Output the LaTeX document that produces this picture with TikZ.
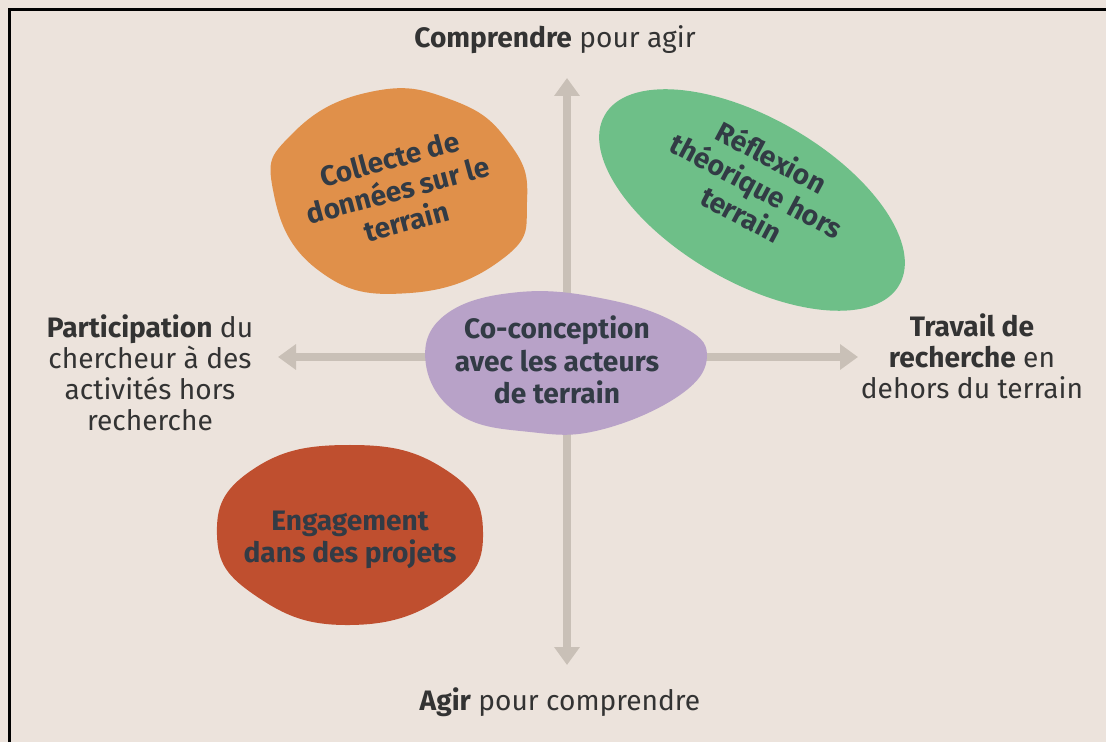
\documentclass[tikz,border=0pt]{standalone}
\usepackage{fontspec}
\setmainfont{Fira Sans}
\usepackage{tikz}
\usetikzlibrary{arrows.meta,positioning}
\definecolor{paper}{HTML}{ECE3DC}
\definecolor{axisgray}{HTML}{C9C0B7}
\definecolor{ink}{HTML}{333333}
\definecolor{blobink}{HTML}{323B45}
\definecolor{orangeblob}{HTML}{E0904A}
\definecolor{greenblob}{HTML}{6EBF88}
\definecolor{purpleblob}{HTML}{B8A2C8}
\definecolor{redblob}{HTML}{BF4F2F}

\begin{document}
\begin{tikzpicture}[x=0.3mm, y=0.3mm,
    every node/.style={font=\fontsize{24}{26.5}\selectfont, align=center, inner sep=0pt, text=ink},
    blobtext/.style={text=blobink, font=\fontsize{24}{27.5}\selectfont\bfseries},
    axis/.style={axisgray, line width=2.4mm, {Triangle[length=5.4mm,width=7.4mm]}-{Triangle[length=5.4mm,width=7.4mm]}}]
% Page and frame
\fill[paper] (0,0) rectangle (1106,742);
\useasboundingbox (0,0) rectangle (1106,742);
\draw[black, line width=0.9mm] (9.5,0) -- (9.5,732.5) -- (1106,732.5);
% Axes
\coordinate (north) at (567,664);
\coordinate (south) at (567,77);
\coordinate (west) at (278,385);
\coordinate (east) at (858,385);
\draw[axis] (south) -- (north);
\draw[axis] (west) -- (east);
% Blobs
\fill[orangeblob] plot[smooth cycle, tension=0.8] coordinates {(273,552) (292,608) (370,650) (452,642) (510,598) (527,540) (505,485) (410,449) (318,472)};
\fill[greenblob, rotate around={-30:(752,542)}] (752,542) ellipse [x radius=170, y radius=82];
\fill[purpleblob] plot[smooth cycle, tension=0.7] coordinates {(426,377) (445,427) (520,450) (610,442) (680,417) (707,387) (680,347) (600,312) (530,310) (460,327)};
\fill[redblob] plot[smooth cycle, tension=0.8] coordinates {(483,210) (446,272) (350,297) (252,272) (217,207) (256,146) (350,117) (448,148)};
% Blob texts
\node[blobtext, rotate=15] (collecte) at (398,552) {Collecte de\\données sur le\\terrain};
\node[blobtext, rotate=-28] (reflexion) at (757,557) {Réflexion\\théorique hors\\terrain};
\node[blobtext] (coconception) at (557,382) {Co-conception\\avec les acteurs\\de terrain};
\node[blobtext] (engagement) at (350,202) {Engagement\\dans des projets};
% Axis labels
\node (comprendre) at (555,702) {\textbf{Comprendre} pour agir};
\node (agir) at (560,40) {\textbf{Agir} pour comprendre};
\node (participation) at (150,369) {\textbf{Participation} du\\chercheur à des\\activités hors\\recherche};
\node (travail) at (972,386) {\textbf{Travail de}\\\textbf{recherche} en\\dehors du terrain};
\end{tikzpicture}
\end{document}
